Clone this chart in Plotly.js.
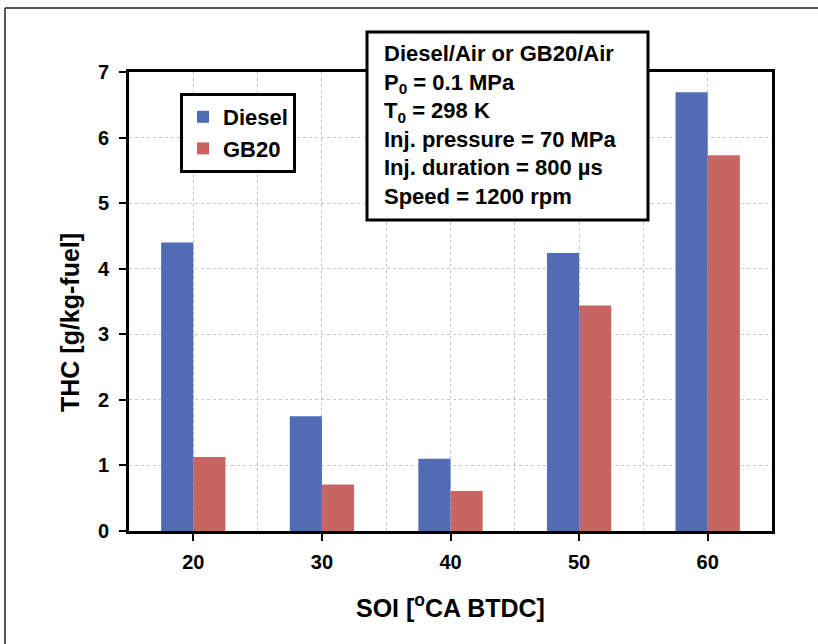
<!DOCTYPE html>
<html>
<head>
<meta charset="utf-8">
<script src="https://cdn.plot.ly/plotly-3.0.1.min.js"></script>
<style>html,body{margin:0;padding:0;background:#fff;}#chart{width:818px;height:644px;}</style>
</head>
<body>
<div id="chart"></div>
<script>
// Data
const soi = [20, 30, 40, 50, 60];
const dieselTHC = [4.40, 1.75, 1.10, 4.24, 6.69];
const gb20THC = [1.13, 0.71, 0.61, 3.44, 5.73];
const seriesNames = ["Diesel", "GB20"];
const xTickLabels = ["20", "30", "40", "50", "60"];
const infoLines = [
  "Diesel/Air or GB20/Air",
  "P<sub>0</sub> = 0.1 MPa",
  "T<sub>0</sub> = 298 K",
  "Inj. pressure = 70 MPa",
  "Inj. duration = 800 µs",
  "Speed = 1200 rpm"
];

const FONT = "Liberation Sans, Arial, sans-serif";
const ML = 129, MR = 46, MT = 72, MB = 113, W = 818, H = 644;
const PW = W - ML - MR, PH = H - MT - MB;
const px = v => (v - ML) / PW;
const py = v => (H - MB - v) / PH;
const GRID = "#c8c8c8", DASH = "3px,3px";

const traces = [
  {
    type: "bar", name: seriesNames[0], x: soi, y: dieselTHC,
    width: 2.5, offset: -2.5, legendgroup: "a",
    marker: {color: "#516CB4", line: {width: 0}}
  },
  {
    type: "bar", name: seriesNames[1], x: soi, y: gb20THC,
    width: 2.5, offset: 0, legendgroup: "b",
    marker: {color: "#C86461", line: {width: 0}}
  }
];

const layout = {
  width: W, height: H,
  margin: {l: ML, r: MR, t: MT, b: MB},
  paper_bgcolor: "#fff", plot_bgcolor: "#fff",
  font: {family: FONT, color: "#000"},
  barmode: "overlay",
  showlegend: true,
  legend: {
    x: px(180), y: py(93), xanchor: "left", yanchor: "top",
    bordercolor: "#000", borderwidth: 3, bgcolor: "#fff",
    font: {family: FONT, size: 22, color: "#000", weight: "bold"},
    tracegroupgap: 8, traceorder: "normal", itemwidth: 30
  },
  xaxis: {
    range: [15, 65], tickvals: soi, ticktext: xTickLabels,
    showline: true, linecolor: "#000", linewidth: 3, mirror: true,
    ticks: "outside", ticklen: 7, tickwidth: 2, tickcolor: "#000",
    ticklabelstandoff: 4,
    tickfont: {family: FONT, size: 20, color: "#000", weight: "bold"},
    showgrid: true, gridcolor: GRID, griddash: DASH, gridwidth: 1,
    minor: {tick0: 15, dtick: 10, showgrid: true, gridcolor: GRID, griddash: DASH, gridwidth: 1, ticks: ""},
    zeroline: false, fixedrange: true
  },
  yaxis: {
    range: [0, 7], dtick: 1, tick0: 0,
    showline: true, linecolor: "#000", linewidth: 3, mirror: true,
    ticks: "outside", ticklen: 7, tickwidth: 2, tickcolor: "#000",
    ticklabelstandoff: 6,
    tickfont: {family: FONT, size: 20, color: "#000", weight: "bold"},
    showgrid: true, gridcolor: GRID, griddash: DASH, gridwidth: 1,
    zeroline: false, fixedrange: true
  },
  shapes: [
    {type: "line", xref: "paper", yref: "paper", x0: px(5), x1: px(5), y0: py(8), y1: py(700),
     line: {color: "#555", width: 2}, layer: "above"},
    {type: "line", xref: "paper", yref: "paper", x0: px(5), x1: px(900), y0: py(8), y1: py(8),
     line: {color: "#555", width: 2}, layer: "above"},
    {type: "rect", xref: "paper", yref: "paper", x0: px(367), x1: px(648), y0: py(220), y1: py(32),
     fillcolor: "#fff", line: {color: "#000", width: 3}, layer: "above"}
  ],
  annotations: [
    {xref: "paper", yref: "paper", x: px(382), y: py(125), xanchor: "left", yanchor: "middle",
     align: "left", showarrow: false, text: infoLines.join("<br>"),
     font: {family: FONT, size: 22, color: "#000", weight: "bold"}},
    {xref: "paper", yref: "paper", x: 0.5, y: py(606), xanchor: "center", yanchor: "middle",
     showarrow: false, text: "SOI [<sup>o</sup>CA BTDC]",
     font: {family: FONT, size: 25, color: "#000", weight: "bold"}},
    {xref: "paper", yref: "paper", x: px(70), y: py(323), xanchor: "center", yanchor: "middle",
     showarrow: false, textangle: -90, text: "THC [g/kg-fuel]",
     font: {family: FONT, size: 25, color: "#000", weight: "bold"}}
  ]
};

Plotly.newPlot("chart", traces, layout, {displayModeBar: false, staticPlot: true});
</script>
</body>
</html>
